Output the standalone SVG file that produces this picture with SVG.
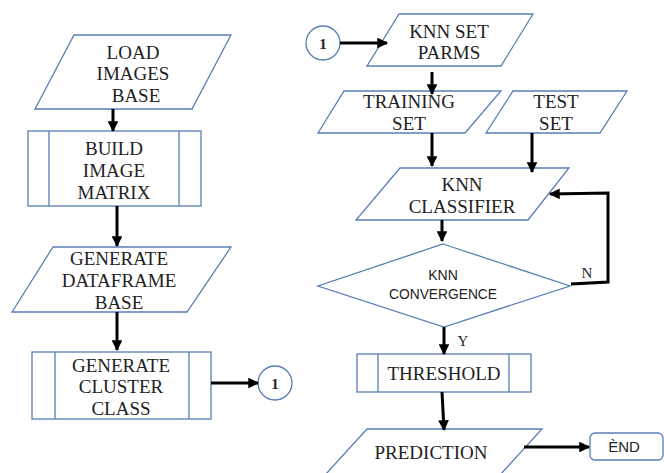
<svg xmlns="http://www.w3.org/2000/svg" width="664" height="473" viewBox="0 0 664 473">
<defs>
<marker id="ah" viewBox="0 0 10 10" refX="9" refY="5" markerWidth="4" markerHeight="3.6" orient="auto" markerUnits="strokeWidth">
<path d="M0,0 L10,5 L0,10 Z" fill="#000"/>
</marker>
<style>
.sh{fill:#fff;stroke:#5a7db5;stroke-width:1.3}
.ln{fill:none;stroke:#5a7db5;stroke-width:1.3}
.t{font-family:'Liberation Serif',serif;font-size:19px;fill:#222;text-anchor:middle}
.s{font-family:'Liberation Sans',sans-serif;font-size:14px;fill:#222;text-anchor:middle}
.c{fill:none;stroke:#000;stroke-width:3;marker-end:url(#ah)}
</style>
</defs>
<rect width="664" height="473" fill="#fff"/>

<g id="load">
<polygon class="sh" points="74,35 231,35 192,109 35,109"/>
<text class="t" font-family="Liberation Serif, serif" x="133" y="59">LOAD</text>
<text class="t" font-family="Liberation Serif, serif" x="133" y="80">IMAGES</text>
<text class="t" font-family="Liberation Serif, serif" x="136" y="102">BASE</text>
</g>
<g id="build">
<rect class="sh" x="28" y="131" width="173" height="75"/>
<line class="ln" x1="49" y1="131" x2="49" y2="206"/>
<line class="ln" x1="179" y1="131" x2="179" y2="206"/>
<text class="t" font-family="Liberation Serif, serif" x="114" y="155">BUILD</text>
<text class="t" font-family="Liberation Serif, serif" x="114" y="177">IMAGE</text>
<text class="t" font-family="Liberation Serif, serif" x="114" y="199">MATRIX</text>
</g>
<g id="dataframe">
<polygon class="sh" points="53,247 231,247 187,312 12,312"/>
<text class="t" font-family="Liberation Serif, serif" x="119" y="265">GENERATE</text>
<text class="t" font-family="Liberation Serif, serif" x="119" y="287">DATAFRAME</text>
<text class="t" font-family="Liberation Serif, serif" x="119" y="309">BASE</text>
</g>
<g id="cluster">
<rect class="sh" x="32" y="352" width="179" height="67"/>
<line class="ln" x1="55" y1="352" x2="55" y2="419"/>
<line class="ln" x1="189" y1="352" x2="189" y2="419"/>
<text class="t" font-family="Liberation Serif, serif" x="121" y="372">GENERATE</text>
<text class="t" font-family="Liberation Serif, serif" x="121" y="393">CLUSTER</text>
<text class="t" font-family="Liberation Serif, serif" x="121" y="415">CLASS</text>
</g>
<g id="conn1a">
<circle class="sh" cx="275" cy="383" r="17"/>
<text class="t" font-family="Liberation Serif, serif" x="275" y="389" style="font-size:15px;font-weight:bold">1</text>
</g>
<g id="conn1b">
<circle class="sh" cx="323" cy="43" r="17"/>
<text class="t" font-family="Liberation Serif, serif" x="323" y="49" style="font-size:15px;font-weight:bold">1</text>
</g>
<g id="parms">
<polygon class="sh" points="399,14 533,14 501,66 367,66"/>
<text class="t" font-family="Liberation Serif, serif" x="449" y="38">KNN SET</text>
<text class="t" font-family="Liberation Serif, serif" x="449" y="59">PARMS</text>
</g>
<g id="training">
<polygon class="sh" points="344,91 501,91 465,133 318,133"/>
<text class="t" font-family="Liberation Serif, serif" x="409" y="108">TRAINING</text>
<text class="t" font-family="Liberation Serif, serif" x="409" y="130">SET</text>
</g>
<g id="test">
<polygon class="sh" points="513,91 627,91 600,133 486,133"/>
<text class="t" font-family="Liberation Serif, serif" x="556" y="108">TEST</text>
<text class="t" font-family="Liberation Serif, serif" x="556" y="130">SET</text>
</g>
<g id="classifier">
<polygon class="sh" points="400,168 569,168 528,220 356,220"/>
<text class="t" font-family="Liberation Serif, serif" x="462" y="191">KNN</text>
<text class="t" font-family="Liberation Serif, serif" x="462" y="213">CLASSIFIER</text>
</g>
<g id="convergence">
<polygon class="sh" points="443,244 570,286 444,327 318,286"/>
<text class="s" x="443" y="280">KNN</text>
<text class="s" x="443" y="299" textLength="108" lengthAdjust="spacingAndGlyphs">CONVERGENCE</text>
</g>
<g id="threshold">
<rect class="sh" x="357" y="354" width="174" height="38"/>
<line class="ln" x1="378" y1="354" x2="378" y2="392"/>
<line class="ln" x1="509" y1="354" x2="509" y2="392"/>
<text class="t" font-family="Liberation Serif, serif" x="444" y="380">THRESHOLD</text>
</g>
<g id="prediction">
<polygon class="sh" points="367,429 542,429 500,475 325,475"/>
<text class="t" font-family="Liberation Serif, serif" x="431" y="459">PREDICTION</text>
</g>
<g id="end">
<rect class="sh" x="590" y="433" width="73" height="27" rx="5"/>
<text class="s" x="624" y="452" style="font-size:15px">ÈND</text>
</g>

<g id="connectors">
<line class="c" x1="113" y1="109" x2="113" y2="131"/>
<line class="c" x1="117" y1="206" x2="117" y2="246"/>
<line class="c" x1="117" y1="312" x2="117" y2="350"/>
<line class="c" x1="211" y1="383" x2="258" y2="383"/>
<line class="c" x1="340" y1="43" x2="387" y2="43"/>
<line class="c" x1="432" y1="72" x2="432" y2="94"/>
<line class="c" x1="432" y1="133" x2="432" y2="166"/>
<line class="c" x1="532" y1="133" x2="532" y2="172"/>
<line class="c" x1="442" y1="220" x2="442" y2="241"/>
<polyline class="c" points="571,284 608,282 608,193 550,194"/>
<line class="c" x1="444" y1="327" x2="444" y2="354"/>
<line class="c" x1="442" y1="392" x2="444" y2="430"/>
<line class="c" x1="524" y1="447" x2="589" y2="447"/>
<text class="t" font-family="Liberation Serif, serif" x="587" y="278" style="font-size:15px">N</text>
<text class="t" font-family="Liberation Serif, serif" x="463" y="346" style="font-size:15px">Y</text>
</g>
</svg>
